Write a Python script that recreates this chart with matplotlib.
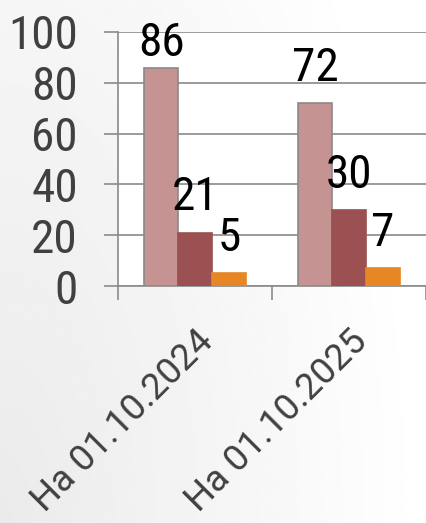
import numpy as np
import matplotlib
matplotlib.use("Agg")
import matplotlib.pyplot as plt
import matplotlib.transforms as mtransforms

categories = ["На 01.10.2024", "На 01.10.2025"]
series_a = [86, 72]
series_b = [21, 30]
series_c = [5, 7]
colors = ["#C49392", "#9B5152", "#E68625"]
yticks = [0, 20, 40, 60, 80, 100]

num_font = ["Roboto Condensed", "Liberation Sans", "DejaVu Sans"]
lab_font = ["Roboto", "DejaVu Sans"]

fig = plt.figure(figsize=(4.26, 5.23), dpi=100)

# soft grey-to-white background
bg = fig.add_axes([0, 0, 1, 1], zorder=-10)
gx, gy = np.meshgrid(np.linspace(0, 1, 200), np.linspace(0, 1, 200))
grad = np.clip(0.92 + 0.08 * np.sqrt(gx**2 + (1 - gy) ** 2 * 0.3), 0, 1)
bg.imshow(grad, cmap="gray", vmin=0, vmax=1, aspect="auto", extent=[0, 1, 0, 1])
bg.axis("off")

ax = fig.add_axes([118/426, 237/523, 308/426, 254/523])
ax.set_facecolor("white")
ax.set_xlim(0, 2)
ax.set_ylim(0, 100)

x = np.arange(len(categories)) + 0.5
w = 0.22
offs = [-w, 0, w]
px_per_unit = 254 / 100
for vals, c, o in zip([series_a, series_b, series_c], colors, offs):
    ec = "#8A8A8A" if c == colors[0] else c
    bars = ax.bar(x + o, vals, width=w, color=c, edgecolor=ec, linewidth=1.2, zorder=3)
    for b, v in zip(bars, vals):
        # labels sit ~22px above the bar, but stay inside the chart area
        off = min(16, (90.7 - v) * px_per_unit * 0.72)
        ax.annotate(str(v), (b.get_x() + b.get_width() / 2, v), xytext=(0, off),
                    textcoords="offset points", ha="center", va="baseline",
                    fontsize=34, family=num_font, color="black", zorder=5,
                    annotation_clip=False)

ax.set_yticks(yticks)
ax.set_yticklabels([str(t) for t in yticks], fontsize=34, family=num_font, color="#404040")
ax.grid(axis="y", color="#8A8A8A", linewidth=1.2, zorder=0)
ax.set_xticks([0, 1, 2])
ax.set_xticklabels([])
ax.set_xticks(x, minor=True)
ax.set_xticklabels(categories, minor=True, rotation=45, ha="right", va="top",
                   rotation_mode="anchor", fontsize=26.5, family=lab_font,
                   color="#404040")
shift = mtransforms.ScaledTranslation(-10 / 72, 0, fig.dpi_scale_trans)
for t in ax.get_xticklabels(minor=True):
    t.set_transform(t.get_transform() + shift)
ax.tick_params(axis="x", which="minor", length=0, pad=27)
ax.tick_params(axis="x", which="major", length=10, width=1.2, color="#8A8A8A", direction="out")
ax.tick_params(axis="y", length=10, width=1.2, color="#8A8A8A", pad=19)
for s in ["top", "right"]:
    ax.spines[s].set_visible(False)
for s in ["left", "bottom"]:
    ax.spines[s].set_color("#8A8A8A")
    ax.spines[s].set_linewidth(1.2)

fig.savefig("out.png", dpi=100)
